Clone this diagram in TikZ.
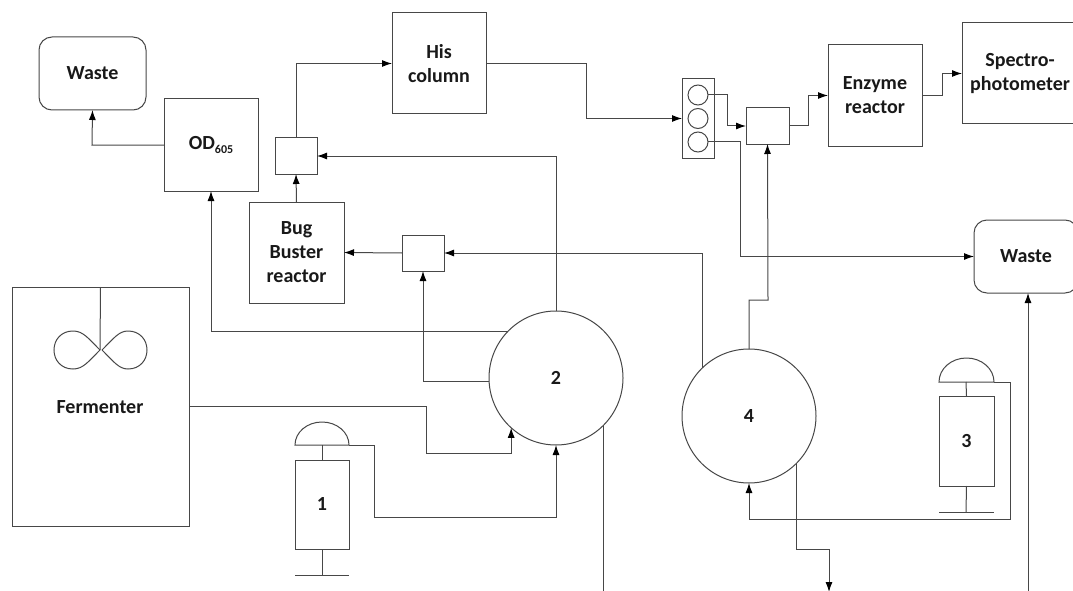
\documentclass[tikz,border=0pt]{standalone}
\usepackage{fontspec}
\setmainfont{Carlito}
\usetikzlibrary{arrows.meta}
\tikzset{
  base/.style={draw=black!72,line width=1pt,inner sep=0pt,outer sep=0pt,align=center,
    font=\fontsize{20}{24}\selectfont\bfseries,text=black!90},
  box/.style={base,rectangle},
  rbox/.style={base,rectangle,rounded corners=13pt},
  disc/.style={base,circle,minimum size=134pt},
  valvehole/.style={base,circle,minimum size=20pt},
  link/.style={draw=black!72,line width=1pt},
  flow/.style={link,-{Latex[length=10pt,width=7pt,black]}}
}
\begin{document}
\begin{tikzpicture}[x=1pt,y=-1pt]
\useasboundingbox (0,0) rectangle (1073,591);
\fill[white] (0,0) rectangle (1073,591);
\clip (0,0) rectangle (1073,591);
% boxes
\node[rbox,minimum width=107pt,minimum height=73pt] (wasteA) at (92.5,73.5) {Waste};
\node[box,minimum width=94pt,minimum height=92pt] (od) at (211,145) {OD\raisebox{-3.5pt}{\fontsize{12}{12}\selectfont\bfseries 605}};
\node[box,minimum width=94pt,minimum height=101pt] (his) at (439,63.5) {His\\column};
\node[box,minimum width=42pt,minimum height=36pt] (mixA) at (296,156) {};
\node[box,minimum width=95pt,minimum height=101pt] (bug) at (296.5,252.5) {Bug\\Buster\\reactor};
\node[box,minimum width=42pt,minimum height=36pt] (mixB) at (423,253) {};
\node[box,minimum width=177pt,minimum height=239pt] (ferm) at (100.5,406.5) {};
\node[font=\fontsize{20}{24}\selectfont\bfseries,text=black!90] (fermlabel) at (100,407) {Fermenter};
\node[disc] (two) at (556,378) {2};
\node[disc] (four) at (749,416) {4};
\node[box,minimum width=32pt,minimum height=79pt] (valve) at (698,118.5) {};
\node[valvehole] (vA) at (698,95) {};
\node[valvehole] (vB) at (698,118.5) {};
\node[valvehole] (vC) at (698,142) {};
\node[box,minimum width=43pt,minimum height=36pt] (mixC) at (767.5,126) {};
\node[box,minimum width=94pt,minimum height=101pt] (enz) at (875,95.5) {Enzyme\\reactor};
\node[box,minimum width=116pt,minimum height=101pt] (spec) at (1020,73.5) {Spectro-\\photometer};
\node[rbox,minimum width=104pt,minimum height=73pt] (wasteB) at (1026,256.5) {Waste};
% syringe 1
\node[box,minimum width=54pt,minimum height=89pt] (synA) at (322,504.5) {1};
\draw[link] (295,445) arc[start angle=180,end angle=360,x radius=27,y radius=23] -- cycle;
\coordinate (domeA) at (349,445);
\coordinate (capA) at (322,445);
\coordinate (footA) at (322,575);
\draw[link] (capA) -- (synA.north);
\draw[link] (synA.south) -- (footA);
\draw[link] (295,575) -- (349,575);
% syringe 3
\node[box,minimum width=55pt,minimum height=90pt] (synB) at (966.5,441) {3};
\draw[link] (939,382) arc[start angle=180,end angle=360,x radius=27.5,y radius=24] -- cycle;
\coordinate (domeB) at (994,382);
\coordinate (capB) at (966,382);
\coordinate (footB) at (966,512);
\draw[link] (capB) -- (synB.north);
\draw[link] (synB.south) -- (footB);
\draw[link] (939,512) -- (994,512);
% impeller
\coordinate (shaft) at (100,350);
\draw[link] (ferm.north) -- (shaft);
\draw[link] (100,350) .. controls (88,338) and (83,331) .. (73,331) .. controls (61,331) and (54,340) .. (54,350) .. controls (54,360) and (61,369) .. (73,369) .. controls (83,369) and (88,362) .. (100,350);
\draw[link] (102,350) .. controls (114,338) and (119,331) .. (128,331) .. controls (140,331) and (147,340) .. (147,350) .. controls (147,360) and (140,369) .. (128,369) .. controls (119,369) and (114,362) .. (102,350);
% connectors
\draw[flow] (od.west) -- ++(-72,0) -- (wasteA.south);
\draw[flow] (mixA.north) |- (his.west);
\draw[flow] (bug.north) -- (mixA.south);
\draw[flow] (mixB.west) -- (bug.east);
\draw[flow] (two.north) |- (mixA.east);
\draw[flow] (two.136.6) -| (od.south);
\draw[flow] (two.183) -| (mixB.south);
\draw[flow] (ferm.east) -- ++(237,0) -- ++(0,47) -| (two.228.5);
\draw[flow] (domeA) -- ++(25,0) -- ++(0,72) -| (two.south);
\draw[link] (two.-45) -- ++(0,200);
\draw[flow] (his.east) -- ++(100,0) |- (valve.west);
\draw[flow] (vA.east) -- ++(19,0) |- (mixC.west);
\draw[flow] (vC.east) -- ++(32,0) |- (wasteB.west);
\draw[flow] (mixC.east) -- ++(19,0) |- (enz.west);
\draw[flow] (enz.east) -- ++(20,0) |- (spec.west);
\draw[flow] (four.north) -- ++(0,-49) -- ++(19,0) -- (mixC.south);
\draw[flow] (four.134.5) |- (mixB.east);
\draw[flow] (domeB) -- ++(16,0) -- ++(0,137) -| (four.south);
\coordinate (outFour) at (829,592);
\draw[flow] (four.-45) -- ++(0,86) -| (outFour);
\coordinate (inWaste) at (1028,600);
\draw[flow] (inWaste) -- (wasteB.south -| inWaste);
\end{tikzpicture}
\end{document}
